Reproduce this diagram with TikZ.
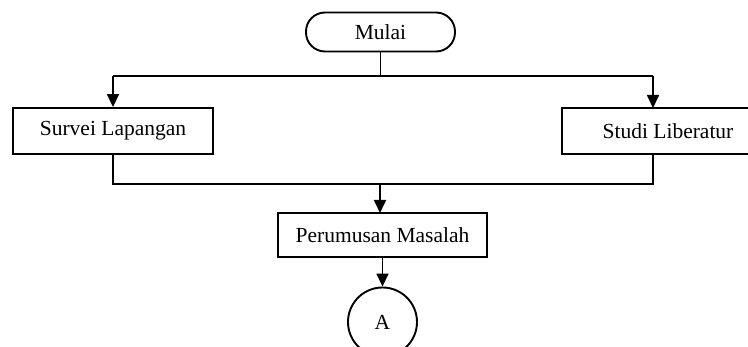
\documentclass[tikz,border=0pt]{standalone}
\usepackage{fontspec}
\setmainfont{Liberation Serif}
\usetikzlibrary{arrows.meta}
\begin{document}
\begin{tikzpicture}[x=1pt,y=-1pt,
  every node/.style={font=\fontsize{21.5}{26}\selectfont, line width=1.9pt, inner sep=0pt},
  boxstyle/.style={draw, rectangle, minimum height=46pt},
  termstyle/.style={draw, rectangle, rounded corners=19pt, minimum width=149pt, minimum height=39pt},
  connstyle/.style={draw, line width=1.7pt},
  arrstyle/.style={connstyle, -{Triangle[length=13pt,width=12pt]}}
]
\clip (0,0) rectangle (748,347);
\node[termstyle] (mulai) at (380.5,32) {Mulai};
\node[boxstyle, minimum width=200pt] (survei) at (113,131) {Survei Lapangan};
\node[boxstyle, minimum width=212pt] (studi) at (668,131) {Studi Liberatur};
\node[boxstyle, minimum width=209pt, minimum height=44pt] (perum) at (382.5,235) {Perumusan Masalah};
\node[draw, circle, minimum size=69pt] (a) at (382.5,322) {A};
\coordinate (tl) at (113,76);
\coordinate (tr) at (653,76);
\coordinate (jt) at (mulai.south |- tl);
\coordinate (trb) at (653,108);
\coordinate (bl) at (113,184);
\coordinate (br) at (653,184);
\coordinate (brt) at (653,154);
\coordinate (jb) at (380,184);
\coordinate (pt) at (380,213);
\path[connstyle] (mulai.south) -- (jt);
\path[connstyle] (tl) -- (tr);
\path[arrstyle] (tl) -- (survei.north);
\path[arrstyle] (tr) -- (trb);
\path[connstyle] (survei.south) -- (bl) -- (br) -- (brt);
\path[arrstyle] (jb) -- (pt);
\path[arrstyle] (perum.south) -- (a.north);
\end{tikzpicture}
\end{document}
